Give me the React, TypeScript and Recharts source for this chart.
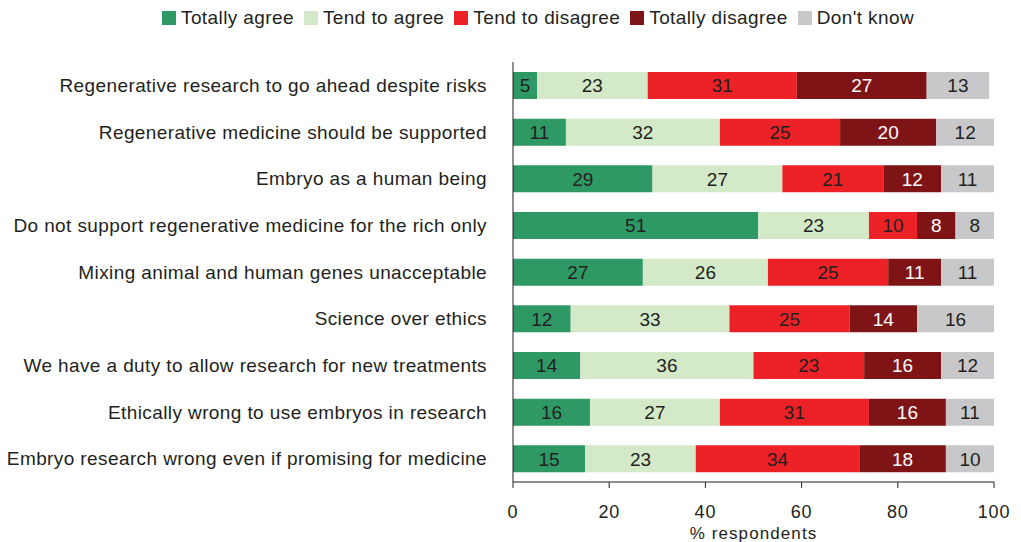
import { BarChart, Bar, XAxis, YAxis, LabelList, Label } from 'recharts';

const statements = [
  'Regenerative research to go ahead despite risks',
  'Regenerative medicine should be supported',
  'Embryo as a human being',
  'Do not support regenerative medicine for the rich only',
  'Mixing animal and human genes unacceptable',
  'Science over ethics',
  'We have a duty to allow research for new treatments',
  'Ethically wrong to use embryos in research',
  'Embryo research wrong even if promising for medicine',
];

const totallyAgree = [5, 11, 29, 51, 27, 12, 14, 16, 15];
const tendToAgree = [23, 32, 27, 23, 26, 33, 36, 27, 23];
const tendToDisagree = [31, 25, 21, 10, 25, 25, 23, 31, 34];
const totallyDisagree = [27, 20, 12, 8, 11, 14, 16, 16, 18];
const dontKnow = [13, 12, 11, 8, 11, 16, 12, 11, 10];

const xTicks = [0, 20, 40, 60, 80, 100];

const series = [
  { key: 'totallyAgree', name: 'Totally agree', color: '#2f9966', text: '#231f20' },
  { key: 'tendToAgree', name: 'Tend to agree', color: '#d4e9c8', text: '#231f20' },
  { key: 'tendToDisagree', name: 'Tend to disagree', color: '#ec2227', text: '#231f20' },
  { key: 'totallyDisagree', name: 'Totally disagree', color: '#7f1416', text: '#ffffff' },
  { key: 'dontKnow', name: "Don't know", color: '#c8c8ca', text: '#231f20' },
];

const data = statements.map((s, i) => ({
  statement: s,
  totallyAgree: totallyAgree[i],
  tendToAgree: tendToAgree[i],
  tendToDisagree: tendToDisagree[i],
  totallyDisagree: totallyDisagree[i],
  dontKnow: dontKnow[i],
}));

const font = '"Liberation Sans", Arial, sans-serif';
const textStyle = { fill: '#231f20', fontSize: 19, fontFamily: font, letterSpacing: 0.4 };
const axisText = { fill: '#231f20', fontSize: 18, fontFamily: font, letterSpacing: 0.8 };
const titleText = { fill: '#231f20', fontSize: 17, fontFamily: font, letterSpacing: 1.1 };

function TopLegend() {
  return (
    <div
      style={{
        position: 'absolute',
        top: 0,
        left: 154,
        display: 'flex',
        alignItems: 'center',
        fontFamily: font,
        fontSize: 19,
        letterSpacing: 0.4,
        lineHeight: '20px',
        color: '#231f20',
        whiteSpace: 'nowrap',
      }}
    >
      {series.map((s) => (
        <div key={s.key} style={{ display: 'flex', alignItems: 'center', marginRight: 10 }}>
          <span style={{ width: 14, height: 14, background: s.color, display: 'inline-block', marginRight: 5 }} />
          <span>{s.name}</span>
        </div>
      ))}
    </div>
  );
}

export default function App() {
  return (
    <div style={{ position: 'relative', width: 1005, height: 534 }}>
      <TopLegend />
      <BarChart
        width={1005}
        height={534}
        data={data}
        layout="vertical"
        margin={{ top: 54, right: 19, left: 0, bottom: 30 }}
        barSize={27}
      >
        <XAxis
          type="number"
          domain={[0, 100]}
          ticks={xTicks}
          height={30}
          tickSize={6}
          tickMargin={17}
          stroke="#231f20"
          tick={axisText}
          allowDataOverflow
        >
          <Label value="% respondents" position="insideBottom" offset={-27} {...titleText} />
        </XAxis>
        <YAxis
          type="category"
          dataKey="statement"
          width={505}
          tickLine={false}
          tickMargin={20}
          stroke="#231f20"
          tick={textStyle}
          interval={0}
        />
        {series.map((s) => (
          <Bar key={s.key} dataKey={s.key} name={s.name} stackId="a" fill={s.color} isAnimationActive={false}>
            <LabelList dataKey={s.key} position="center" fill={s.text} fontSize={19} fontFamily={font} />
          </Bar>
        ))}
      </BarChart>
    </div>
  );
}
